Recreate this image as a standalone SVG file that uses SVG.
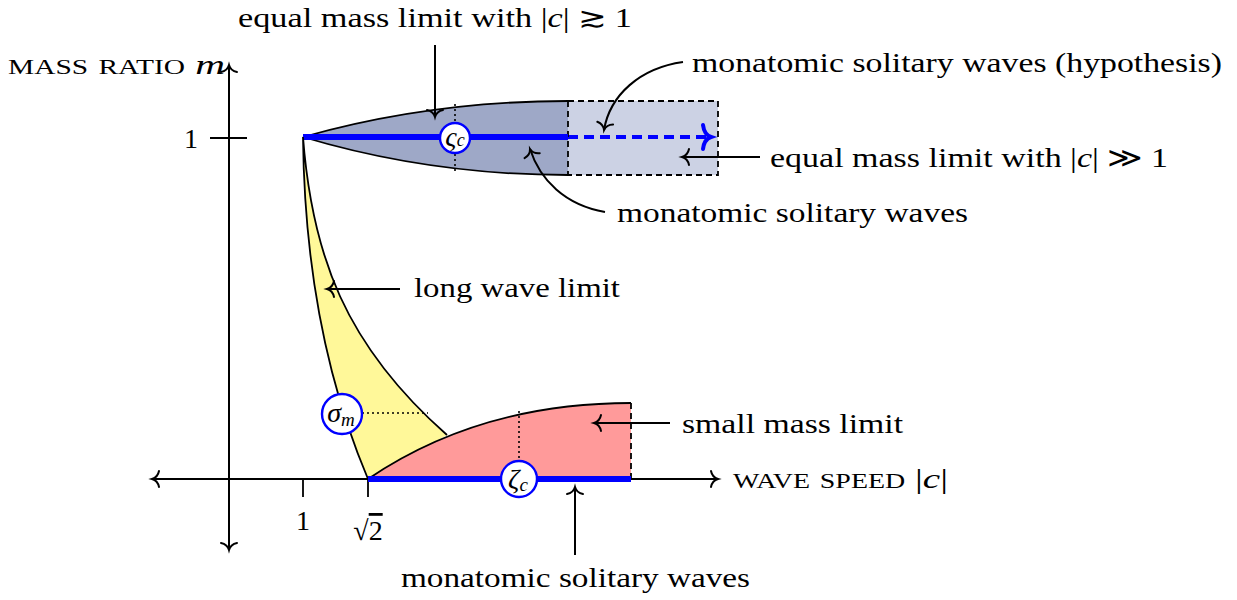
<svg xmlns="http://www.w3.org/2000/svg" width="1237" height="600" viewBox="0 0 1237 600">
<style>
text{font-family:"Liberation Serif","Times New Roman",serif;font-size:28px;fill:#000}
.it{font-style:italic}
.sc{font-variant:small-caps}
.ln{fill:none;stroke:#000;stroke-width:1.8}
.ar{fill:none;stroke:#000;stroke-width:2;marker-end:url(#to)}
.dash{fill:none;stroke:#000;stroke-width:1.8;stroke-dasharray:6,4}
.dot{fill:none;stroke:#000;stroke-width:1.6;stroke-dasharray:2,3}
.circ{fill:#fff;stroke:#0000ff;stroke-width:2.4}
</style>
<defs>
<marker id="to" markerUnits="userSpaceOnUse" markerWidth="20" markerHeight="20" viewBox="-10 -10 20 20" refX="0" refY="0" orient="auto" overflow="visible">
<path d="M-7,-8 C-6,-3 -2.5,-0.7 0,0 C-2.5,0.7 -6,3 -7,8" fill="none" stroke="#000" stroke-width="2" stroke-linecap="round"/>
</marker>
<marker id="tob" markerUnits="userSpaceOnUse" markerWidth="30" markerHeight="30" viewBox="-15 -15 30 30" refX="0" refY="0" orient="auto" overflow="visible">
<path d="M-8,-12 C-7,-4 -3,-1 0,0 C-3,1 -7,4 -8,12" fill="none" stroke="#0000ff" stroke-width="4" stroke-linecap="round"/>
</marker>
</defs>

<g id="axes">
<path class="ar" d="M229,550 L229,65"/>
<path class="ar" d="M229,479 L229,550"/>
<path class="ar" d="M229,479 L718,479"/>
<path class="ar" d="M229,479 L152,479"/>
<path class="ln" d="M210,138 L247,138 M303,479 L303,497 M368,479 L368,497"/>
<text x="198" y="148" text-anchor="end">1</text>
<text x="303" y="530" text-anchor="middle">1</text>
<text x="368" y="540" text-anchor="middle">√<tspan text-decoration="overline">2</tspan></text>
<text x="8" y="74" textLength="217" lengthAdjust="spacingAndGlyphs"><tspan class="sc">mass ratio</tspan> <tspan class="it">m</tspan></text>
<text x="733" y="488" textLength="215" lengthAdjust="spacingAndGlyphs"><tspan class="sc">wave speed</tspan> |<tspan class="it">c</tspan>|</text>
</g>

<g id="hypothesis-region">
<rect x="568" y="101" width="150" height="74" fill="#ccd2e4"/>
<path class="dash" d="M568,101 L718,101 L718,175 L568,175"/>
<path d="M568,137 L711,137" fill="none" stroke="#0000ff" stroke-width="4" stroke-dasharray="10,6" marker-end="url(#tob)"/>
</g>

<g id="equal-mass-region">
<path d="M303,137 Q430,101 568,101 L568,175 Q430,175 303,137 Z" fill="#9ea8c7"/>
<path class="ln" d="M303,137 Q430,101 568,101 M303,137 Q430,175 568,175"/>
<path class="dash" d="M568,101 L568,175"/>
<path class="dot" d="M455,104 L455,172"/>
<path d="M303,137 L568,137" stroke="#0000ff" stroke-width="6" fill="none"/>
<circle class="circ" cx="455" cy="138" r="15"/>
<text x="455" y="146" text-anchor="middle" font-size="24"><tspan class="it">ς</tspan><tspan class="it" font-size="18">c</tspan></text>
</g>

<g id="long-wave-region">
<path d="M303,137 C312,255 345,345 447,435 L368,479 Q305,330 303,137 Z" fill="#fff899"/>
<path class="ln" d="M303,137 C312,255 345,345 447,435 M368,479 Q305,330 303,137"/>
<path class="dot" d="M362,413 L428,413"/>
</g>

<g id="small-mass-region">
<path d="M368,479 Q480,403 631,403 L631,479 Z" fill="#ff9a9a"/>
<path class="ln" d="M368,479 Q480,403 631,403"/>
<path class="dash" d="M631,403 L631,479"/>
<path class="dot" d="M519,411 L519,461"/>
<path d="M368,479 L631,479" stroke="#0000ff" stroke-width="6" fill="none"/>
</g>

<g id="sigma-node">
<circle class="circ" cx="342" cy="414" r="20"/>
<text x="341" y="422" text-anchor="middle" font-size="26"><tspan class="it">σ</tspan><tspan class="it" font-size="19" dy="4">m</tspan></text>
</g>
<g id="zeta-node">
<circle class="circ" cx="519" cy="479" r="18"/>
<text x="518" y="488" text-anchor="middle" font-size="26"><tspan class="it">ζ</tspan><tspan class="it" font-size="19" dy="3">c</tspan></text>
</g>

<g id="connectors">
<path class="ar" d="M435,45 L435,117"/>
<path class="ar" d="M683,62 C640,68 610,95 604,130"/>
<path class="ar" d="M760,157 L682,157"/>
<path class="ar" d="M605,212 C565,205 540,180 530,149"/>
<path class="ar" d="M400,289 L327,289"/>
<path class="ar" d="M670,423 L594,423"/>
<path class="ar" d="M575,555 L575,487"/>
</g>

<g id="labels">
<text x="238" y="27" textLength="394" lengthAdjust="spacingAndGlyphs">equal mass limit with |<tspan class="it">c</tspan>| ≳ 1</text>
<text x="692" y="72" textLength="530" lengthAdjust="spacingAndGlyphs">monatomic solitary waves (hypothesis)</text>
<text x="770" y="167" textLength="398" lengthAdjust="spacingAndGlyphs">equal mass limit with |<tspan class="it">c</tspan>| ≫ 1</text>
<text x="617" y="222" textLength="351" lengthAdjust="spacingAndGlyphs">monatomic solitary waves</text>
<text x="414" y="297" textLength="206" lengthAdjust="spacingAndGlyphs">long wave limit</text>
<text x="682" y="433" textLength="221" lengthAdjust="spacingAndGlyphs">small mass limit</text>
<text x="401" y="587" textLength="349" lengthAdjust="spacingAndGlyphs">monatomic solitary waves</text>
</g>
</svg>
